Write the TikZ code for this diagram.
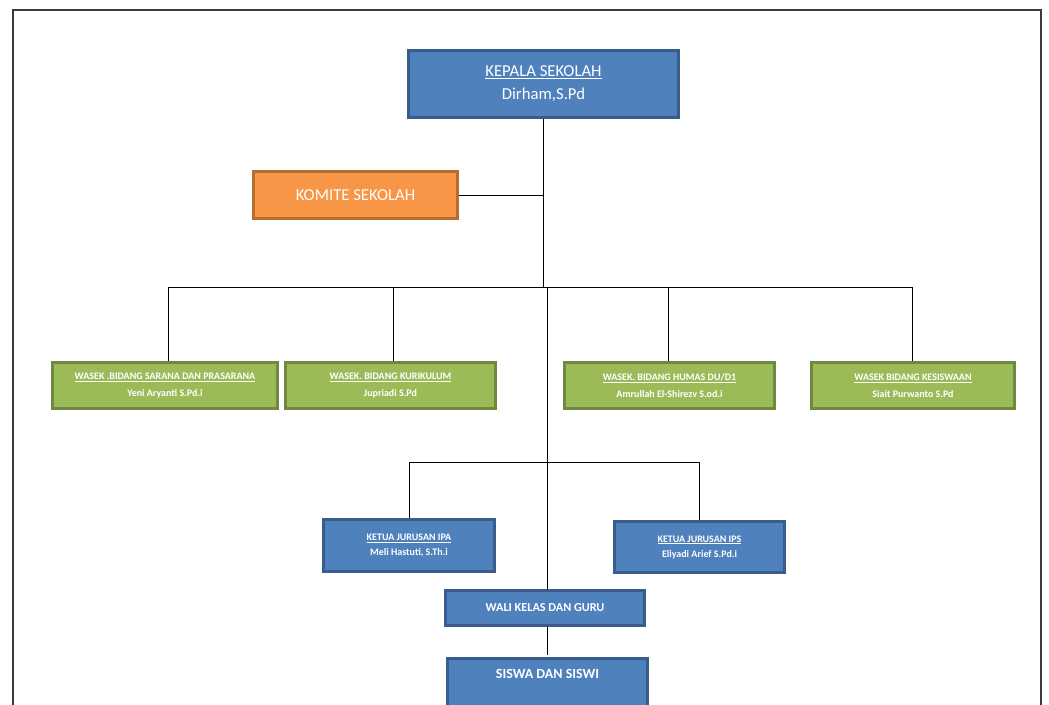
\documentclass[tikz,border=0pt]{standalone}
\usepackage{fontspec}
\setmainfont{Carlito}
\definecolor{bfill}{HTML}{4F81BD}
\definecolor{bline}{HTML}{385D8A}
\definecolor{gfill}{HTML}{9BBB59}
\definecolor{gline}{HTML}{71893F}
\definecolor{ofill}{HTML}{F79646}
\definecolor{oline}{HTML}{B66D31}
\definecolor{frame}{HTML}{3A3A3A}
\tikzset{
  box/.style={draw, line width=3pt, inner sep=0pt, align=center, text=white},
  bluebox/.style={box, draw=bline, fill=bfill},
  greenbox/.style={box, draw=gline, fill=gfill, minimum height=46pt, font=\fontsize{10}{17}\selectfont\bfseries},
  orangebox/.style={box, draw=oline, fill=ofill},
  conn/.style={draw=black, line width=1pt},
}
\begin{document}
\begin{tikzpicture}[x=1pt,y=-1pt]
\useasboundingbox (0,0) rectangle (1049,704);
\clip (0,0) rectangle (1049,704);
% page frame
\draw[frame, line width=2pt] (12.5,720) -- (12.5,9.5) -- (1040.5,9.5) -- (1040.5,720);

% nodes
\node[bluebox, minimum width=270pt, minimum height=67pt, font=\fontsize{16.7}{23}\selectfont] (kepala) at (543.5,84) {\underline{KEPALA SEKOLAH}\\Dirham,S.Pd};
\node[orangebox, minimum width=204pt, minimum height=47pt, font=\fontsize{16.7}{20}\selectfont] (komite) at (355.5,195) {KOMITE SEKOLAH};

\node[greenbox, minimum width=225pt] (g1) at (165,385.5) {\underline{WASEK .BIDANG SARANA DAN PRASARANA}\\Yeni Aryanti S.Pd.i};
\node[greenbox, minimum width=210pt] (g2) at (390.5,385.5) {\underline{WASEK. BIDANG KURIKULUM}\\Jupriadi S.Pd};
\node[greenbox, minimum width=210pt] (g3) at (669.5,385.5) {\underline{WASEK. BIDANG HUMAS DU/D1}\\Amrullah El-Shirezv S.od.i};
\node[greenbox, minimum width=203pt] (g4) at (913,385.5) {\underline{WASEK BIDANG KESISWAAN}\\Siait Purwanto S.Pd};

\node[bluebox, minimum width=171pt, minimum height=52pt, font=\fontsize{10}{15}\selectfont\bfseries] (ipa) at (409,545.5) {\underline{KETUA JURUSAN IPA}\\Meli Hastuti, S.Th.i};
\node[bluebox, minimum width=170pt, minimum height=51pt, font=\fontsize{10}{15}\selectfont\bfseries] (ips) at (699.5,547) {\underline{KETUA JURUSAN IPS}\\Eliyadi Arief S.Pd.i};

\node[bluebox, minimum width=199pt, minimum height=35pt, font=\fontsize{12.2}{14}\selectfont\bfseries] (wali) at (545,608) {WALI KELAS DAN GURU};
\node[bluebox, anchor=north, minimum width=200pt, minimum height=70pt] (siswa) at (547.5,656.5) {};
\node[text=white, font=\fontsize{14}{16}\selectfont\bfseries] (siswat) at (547.5,674) {SISWA DAN SISWI};

% bus coordinates
\coordinate (bus) at (0,287);
\coordinate (b1) at (168,287);
\coordinate (b2) at (393,287);
\coordinate (b3) at (668,287);
\coordinate (b4) at (912,287);
\coordinate (c2) at (0,462);

% connectors
\draw[conn] (kepala.south) -- (kepala.south |- bus);
\draw[conn] (komite.east) -- (komite.east -| kepala.south);
\draw[conn] (b1) -- (b4);
\draw[conn] (b1) -- (b1 |- g1.north);
\draw[conn] (b2) -- (b2 |- g2.north);
\draw[conn] (b3) -- (b3 |- g3.north);
\draw[conn] (b4) -- (b4 |- g4.north);
\draw[conn] (547,287) -- (547,589);
\draw[conn] (ipa.north |- c2) -- (ips.north |- c2);
\draw[conn] (ipa.north |- c2) -- (ipa.north);
\draw[conn] (ips.north |- c2) -- (ips.north);
\draw[conn] (547,627) -- (547,655);
\end{tikzpicture}
\end{document}
